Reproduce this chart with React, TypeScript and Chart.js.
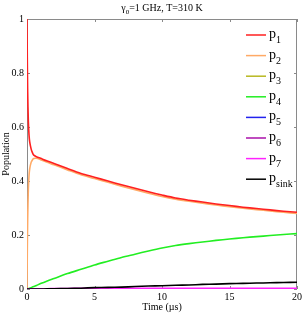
import React, { useEffect, useRef } from "react";
import { Chart, registerables } from "chart.js";

Chart.register(...registerables);

const times = [0, 0.02, 0.05, 0.1, 0.15, 0.2, 0.3, 0.4, 0.5, 0.7, 1, 1.5, 2, 3, 4, 5, 6, 7, 8, 9, 10, 11, 12, 13, 14, 15, 16, 17, 18, 19, 20];
const p1 = [1, 0.86, 0.73, 0.62, 0.57, 0.545, 0.52, 0.505, 0.496, 0.49, 0.484, 0.474, 0.465, 0.446, 0.428, 0.414, 0.4, 0.386, 0.373, 0.36, 0.348, 0.337, 0.329, 0.322, 0.315, 0.309, 0.303, 0.298, 0.293, 0.288, 0.284];
const p2 = [0, 0.13, 0.26, 0.37, 0.42, 0.445, 0.468, 0.478, 0.483, 0.484, 0.479, 0.469, 0.46, 0.441, 0.423, 0.409, 0.395, 0.381, 0.368, 0.355, 0.343, 0.333, 0.325, 0.318, 0.311, 0.305, 0.299, 0.294, 0.289, 0.284, 0.28];
const p3 = [0, 0, 0, 0, 0, 0, 0, 0, 0, 0, 0, 0, 0, 0, 0, 0, 0, 0, 0, 0, 0, 0, 0, 0, 0, 0, 0, 0, 0, 0, 0];
const p4 = [0, 0, 0, 0.001, 0.002, 0.003, 0.005, 0.007, 0.009, 0.013, 0.02, 0.03, 0.039, 0.057, 0.073, 0.089, 0.103, 0.117, 0.129, 0.141, 0.152, 0.161, 0.168, 0.174, 0.18, 0.185, 0.19, 0.194, 0.198, 0.202, 0.205];
const p5 = [0, 0, 0, 0, 0, 0, 0, 0, 0, 0, 0, 0, 0, 0, 0, 0, 0, 0, 0, 0, 0, 0, 0, 0, 0, 0, 0, 0, 0, 0, 0];
const p6 = [0, 0, 0, 0, 0, 0, 0, 0, 0, 0, 0.001, 0.001, 0.001, 0.001, 0.001, 0.001, 0.001, 0.001, 0.001, 0.001, 0.001, 0.001, 0.001, 0.001, 0.001, 0.001, 0.001, 0.001, 0.001, 0.001, 0.001];
const p7 = [0, 0, 0, 0, 0, 0, 0, 0, 0, 0, 0.001, 0.001, 0.0015, 0.002, 0.0025, 0.003, 0.003, 0.003, 0.003, 0.003, 0.003, 0.003, 0.003, 0.003, 0.003, 0.003, 0.003, 0.003, 0.003, 0.003, 0.003];
const pSink = [0, 0, 0, 0, 0, 0, 0, 0, 0, 0, 0, 0.0005, 0.001, 0.002, 0.003, 0.005, 0.006, 0.007, 0.009, 0.011, 0.012, 0.014, 0.015, 0.017, 0.018, 0.02, 0.021, 0.022, 0.023, 0.024, 0.025];

const seriesNames = ["1", "2", "3", "4", "5", "6", "7", "sink"];
const seriesColors = ["#ff2020", "#ffaa66", "#b8b820", "#22ee22", "#2222ee", "#aa10aa", "#ff22ff", "#000000"];
const seriesValues = [p1, p2, p3, p4, p5, p6, p7, pSink];

const xTicks = [0, 5, 10, 15, 20];
const yTicks = [0, 0.2, 0.4, 0.6, 0.8, 1];
const titleMain = "γ";
const titleSub = "0";
const titleRest = "=1 GHz, T=310 K";
const xTitle = "Time (µs)";
const yTitle = "Population";

const SERIF = "'Liberation Serif', 'DejaVu Serif', serif";

const decorPlugin = {
  id: "decor",
  beforeDatasetsDraw(chart: any) {
    const { ctx, chartArea } = chart;
    const { left, right, top, bottom } = chartArea;
    const xs = chart.scales.x;
    const ys = chart.scales.y;
    ctx.save();
    ctx.strokeStyle = "#8a8a8a";
    ctx.lineWidth = 1;
    ctx.strokeRect(left + 0.5, top + 0.5, right - left - 1, bottom - top - 1);
    ctx.beginPath();
    const tl = 3;
    xTicks.forEach((v) => {
      const px = Math.round(xs.getPixelForValue(v)) + 0.5;
      ctx.moveTo(px, bottom);
      ctx.lineTo(px, bottom - tl);
      ctx.moveTo(px, top);
      ctx.lineTo(px, top + tl);
    });
    yTicks.forEach((v) => {
      const py = Math.round(ys.getPixelForValue(v)) + 0.5;
      ctx.moveTo(left, py);
      ctx.lineTo(left + tl, py);
      ctx.moveTo(right, py);
      ctx.lineTo(right - tl, py);
    });
    ctx.stroke();
    ctx.restore();
  },
  afterDraw(chart: any) {
    const { ctx, chartArea } = chart;
    const { left, right, top, bottom } = chartArea;
    ctx.save();
    ctx.fillStyle = "#000";
    // title
    ctx.font = `10px ${SERIF}`;
    ctx.textBaseline = "alphabetic";
    const subFont = `7px ${SERIF}`;
    const w1 = ctx.measureText(titleMain).width;
    const w3 = ctx.measureText(titleRest).width;
    ctx.font = subFont;
    const w2 = ctx.measureText(titleSub).width;
    const total = w1 + w2 + w3;
    let tx = (left + right) / 2 - total / 2;
    const ty = 11;
    ctx.font = `10px ${SERIF}`;
    ctx.fillText(titleMain, tx, ty);
    tx += w1;
    ctx.font = subFont;
    ctx.fillText(titleSub, tx, ty + 3);
    tx += w2;
    ctx.font = `10px ${SERIF}`;
    ctx.fillText(titleRest, tx, ty);

    // x title
    ctx.font = `10px ${SERIF}`;
    ctx.textAlign = "center";
    ctx.fillText(xTitle, (left + right) / 2, bottom + 21);
    // y title
    ctx.save();
    ctx.translate(9, (top + bottom) / 2);
    ctx.rotate(-Math.PI / 2);
    ctx.fillText(yTitle, 0, 0);
    ctx.restore();

    // legend
    ctx.textAlign = "left";
    const lx0 = 246;
    const lx1 = 266;
    const y0 = 35;
    const dy = 20.6;
    seriesNames.forEach((name, i) => {
      const y = y0 + i * dy;
      ctx.strokeStyle = seriesColors[i];
      ctx.lineWidth = 1.5;
      ctx.beginPath();
      ctx.moveTo(lx0, y);
      ctx.lineTo(lx1, y);
      ctx.stroke();
      ctx.fillStyle = "#000";
      ctx.font = `14px ${SERIF}`;
      ctx.fillText("p", 269, y + 3);
      const pw = ctx.measureText("p").width;
      ctx.font = `10px ${SERIF}`;
      ctx.fillText(name, 269 + pw, y + 8);
    });
    ctx.restore();
  },
};

export default function App() {
  const ref = useRef<HTMLCanvasElement | null>(null);
  useEffect(() => {
    if (!ref.current) return;
    const datasets = seriesNames.map((name, i) => ({
      label: "p" + name,
      data: times.map((t, j) => ({ x: t, y: seriesValues[i][j] })),
      borderColor: seriesColors[i],
      backgroundColor: seriesColors[i],
      borderWidth: 1.6,
      pointRadius: 0,
      tension: 0.3,
      fill: false,
      order: i === 0 ? 1 : 8 - i + 1,
    }));
    const chart = new Chart(ref.current, {
      type: "line",
      data: { datasets },
      options: {
        animation: false,
        responsive: false,
        maintainAspectRatio: false,
        layout: { padding: { top: 19, right: 7, left: 0, bottom: 0 } },
        plugins: { legend: { display: false }, title: { display: false }, tooltip: { enabled: false } },
        scales: {
          x: {
            type: "linear",
            min: 0,
            max: 20,
            grid: { display: false, drawTicks: false },
            border: { display: false },
            afterBuildTicks: (s: any) => {
              s.ticks = xTicks.map((v) => ({ value: v }));
            },
            afterFit: (s: any) => {
              s.height = 25;
            },
            ticks: {
              font: { family: SERIF, size: 10 },
              color: "#000",
              padding: 2,
              maxRotation: 0,
              callback: (v: any) => String(v),
            },
          },
          y: {
            type: "linear",
            min: 0,
            max: 1,
            grid: { display: false, drawTicks: false },
            border: { display: false },
            afterBuildTicks: (s: any) => {
              s.ticks = yTicks.map((v) => ({ value: v }));
            },
            afterFit: (s: any) => {
              s.width = 27;
            },
            ticks: {
              font: { family: SERIF, size: 10 },
              color: "#000",
              padding: 3,
              callback: (v: any) => String(Math.round(v * 10) / 10),
            },
          },
        },
      },
      plugins: [decorPlugin],
    });
    return () => chart.destroy();
  }, []);
  return (
    <div style={{ position: "fixed", left: 0, top: 0, width: 304, height: 314, background: "#fff" }}>
      <canvas ref={ref} width={304} height={314} style={{ width: 304, height: 314, display: "block" }} />
    </div>
  );
}
